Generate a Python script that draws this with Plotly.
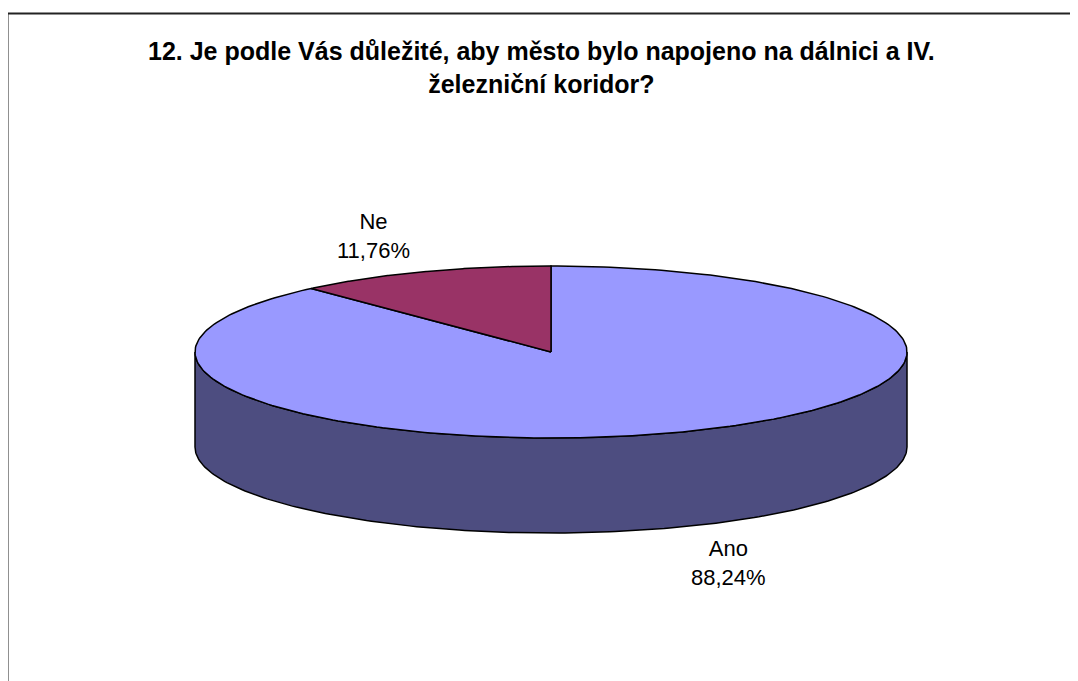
import numpy as np
import plotly.graph_objects as go

# ---- data ----
categories = ["Ano", "Ne"]
values = [88.24, 11.76]
label_texts = ["Ano<br>88,24%", "Ne<br>11,76%"]
title_text = "<b>12. Je podle Vás důležité, aby město bylo napojeno na dálnici a IV.<br>železniční koridor?</b>"

# ---- styling / geometry ----
OFF = 8                    # page body margin of the html page
W, H = 1078 - OFF, 681 - OFF
CX, CY = 551, 352          # centre of top ellipse (page pixels)
RX, RY = 356, 86           # radii of the top ellipse
DEPTH = 95                 # thickness of the 3-D disc
top_colors = ["#9999FF", "#993366"]
side_colors = ["#4D4D80", "#4D1A33"]
FONT = "Liberation Sans, Arial, sans-serif"

def pt(theta_deg, dz=0.0, r=1.0):
    t = np.radians(theta_deg)
    return CX + r * RX * np.sin(t), CY - r * RY * np.cos(t) + dz

fig = go.Figure()

total = sum(values)
angles = []
start = 0.0
for v in values:
    span = 360.0 * v / total
    angles.append((start, start + span))
    start += span

# side walls (only the front half, 90..270 deg clockwise from top, is visible)
for (a0, a1), sc in zip(angles, side_colors):
    lo, hi = max(a0, 90.0), min(a1, 270.0)
    if hi <= lo:
        continue
    th = np.linspace(lo, hi, 200)
    xt, yt = pt(th)
    xb, yb = pt(th[::-1], DEPTH)
    xs = np.concatenate([xt, xb, xt[:1]])
    ys = np.concatenate([yt, yb, yt[:1]])
    fig.add_trace(go.Scatter(x=xs, y=ys, mode="lines", fill="toself",
                             fillcolor=sc, line=dict(color="black", width=1.5),
                             hoverinfo="skip", showlegend=False))

# top faces
for (a0, a1), tc, name in zip(angles, top_colors, categories):
    th = np.linspace(a0, a1, 300)
    xa, ya = pt(th)
    xs = np.concatenate([[CX], xa, [CX]])
    ys = np.concatenate([[CY], ya, [CY]])
    fig.add_trace(go.Scatter(x=xs, y=ys, mode="lines", fill="toself",
                             fillcolor=tc, line=dict(color="black", width=1.5),
                             name=name, hoverinfo="name", showlegend=False))

# data labels
for (a0, a1), txt in zip(angles, label_texts):
    mid = (a0 + a1) / 2
    t = np.radians(mid)
    lx = CX + 1.38 * RX * np.sin(t)
    ly = CY - 1.45 * RY * np.cos(t) + (DEPTH if np.cos(t) < 0 else 0)
    fig.add_annotation(x=lx, y=ly, text=txt, showarrow=False,
                       font=dict(family=FONT, size=22, color="black"),
                       align="center", xanchor="center", yanchor="middle")

fig.add_annotation(x=541, y=67, text=title_text, showarrow=False,
                   font=dict(family=FONT, size=25, color="black"),
                   align="center", xanchor="center", yanchor="middle")

# chart border (top and left edges visible)
fig.add_shape(type="line", xref="x", yref="y", x0=7.5, x1=W + OFF, y0=13.5, y1=13.5,
              line=dict(color="#222222", width=2))
fig.add_shape(type="line", xref="x", yref="y", x0=7.5, x1=7.5, y0=13.5, y1=H + OFF,
              line=dict(color="#222222", width=2))

fig.update_layout(
    width=W, height=H,
    margin=dict(l=0, r=0, t=0, b=0),
    paper_bgcolor="white", plot_bgcolor="white",
    xaxis=dict(range=[OFF, W + OFF], visible=False, fixedrange=True),
    yaxis=dict(range=[H + OFF, OFF], visible=False, fixedrange=True),
    showlegend=False,
)

fig.write_html("out.html")
